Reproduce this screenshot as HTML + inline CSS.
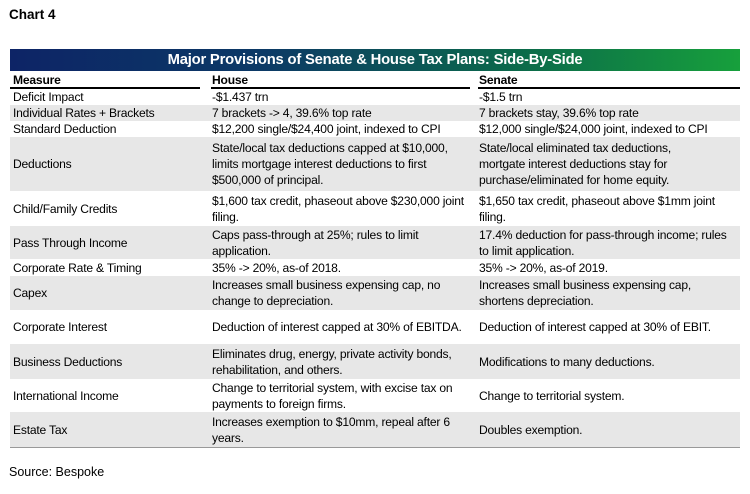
<!DOCTYPE html>
<html><head><meta charset="utf-8"><style>
body{margin:0;width:750px;height:494px;background:#fff;font-family:"Liberation Sans",sans-serif;position:relative;overflow:hidden;color:#000}
.t{position:absolute;font-size:12.1px;letter-spacing:-0.2px;line-height:16px;white-space:nowrap}
.row{position:absolute;left:10px;width:730px;background:#e7e7e7}
.c{position:absolute;display:flex;align-items:center}
</style></head><body>
<div class="t" style="left:9px;top:7px;font-size:13.5px;font-weight:bold;letter-spacing:0">Chart 4</div>
<div style="position:absolute;left:10px;top:49px;width:730px;height:22px;background:linear-gradient(90deg,#0d2466 0%,#0c3a66 35%,#0b6a4a 70%,#17a03c 100%);color:#fff;font-weight:bold;font-size:14.8px;text-align:center;line-height:22px;letter-spacing:-0.2px">Major Provisions of Senate &amp; House Tax Plans: Side-By-Side</div>
<div class="t" style="left:13px;top:72px;font-weight:bold">Measure</div>
<div class="t" style="left:212px;top:72px;font-weight:bold">House</div>
<div class="t" style="left:479px;top:72px;font-weight:bold">Senate</div>
<div style="position:absolute;left:10px;top:87px;width:190px;height:1.5px;background:#000"></div>
<div style="position:absolute;left:211px;top:87px;width:259px;height:1.5px;background:#000"></div>
<div style="position:absolute;left:478px;top:87px;width:262px;height:1.5px;background:#000"></div>
<div id="rows"></div>
<div style="position:absolute;left:10px;top:447px;width:730px;height:1px;background:#999"></div>
<div class="t" style="left:9px;top:464px;font-size:12.5px;letter-spacing:0">Source: Bespoke</div>
<script>
const rows=[
[89,105,"Deficit Impact","-$1.437 trn","-$1.5 trn"],
[105,121,"Individual Rates + Brackets","7 brackets -> 4, 39.6% top rate","7 brackets stay, 39.6% top rate"],
[121,137,"Standard Deduction","$12,200 single/$24,400 joint, indexed to CPI","$12,000 single/$24,000 joint, indexed to CPI"],
[137,191,"Deductions","State/local tax deductions capped at $10,000,<br>limits mortgage interest deductions to first<br>$500,000 of principal.","State/local eliminated tax deductions,<br>mortgate interest deductions stay for<br>purchase/eliminated for home equity."],
[191,226,"Child/Family Credits","$1,600 tax credit, phaseout above $230,000 joint<br>filing.","$1,650 tax credit, phaseout above $1mm joint<br>filing."],
[226,259,"Pass Through Income","Caps pass-through at 25%; rules to limit<br>application.","17.4% deduction for pass-through income; rules<br>to limit application."],
[259,276,"Corporate Rate &amp; Timing","35% -> 20%, as-of 2018.","35% -> 20%, as-of 2019."],
[276,310,"Capex","Increases small business expensing cap, no<br>change to depreciation.","Increases small business expensing cap,<br>shortens depreciation."],
[310,344,"Corporate Interest","Deduction of interest capped at 30% of EBITDA.","Deduction of interest capped at 30% of EBIT."],
[344,379,"Business Deductions","Eliminates drug, energy, private activity bonds,<br>rehabilitation, and others.","Modifications to many deductions."],
[379,412,"International Income","Change to territorial system, with excise tax on<br>payments to foreign firms.","Change to territorial system."],
[412,447,"Estate Tax","Increases exemption to $10mm, repeal after 6<br>years.","Doubles exemption."]
];
const host=document.getElementById('rows');
rows.forEach((r,i)=>{
 const [y0,y1,a,b,c]=r,h=y1-y0;
 if(i%2===1){const g=document.createElement('div');g.className='row';g.style.top=y0+'px';g.style.height=h+'px';
 
 
 host.appendChild(g);}
 [[13,190,a,'measure-cell'],[212,262,b,'house-cell'],[479,262,c,'senate-cell']].forEach(([x,w,txt,n])=>{
  const d=document.createElement('div');d.className='c t';
  d.style.left=x+'px';d.style.top=y0+'px';d.style.height=h+'px';d.style.width=w+'px';
  d.innerHTML='<div>'+txt+'</div>';
  
  
  host.appendChild(d);
 });
});
</script>
</body></html>
